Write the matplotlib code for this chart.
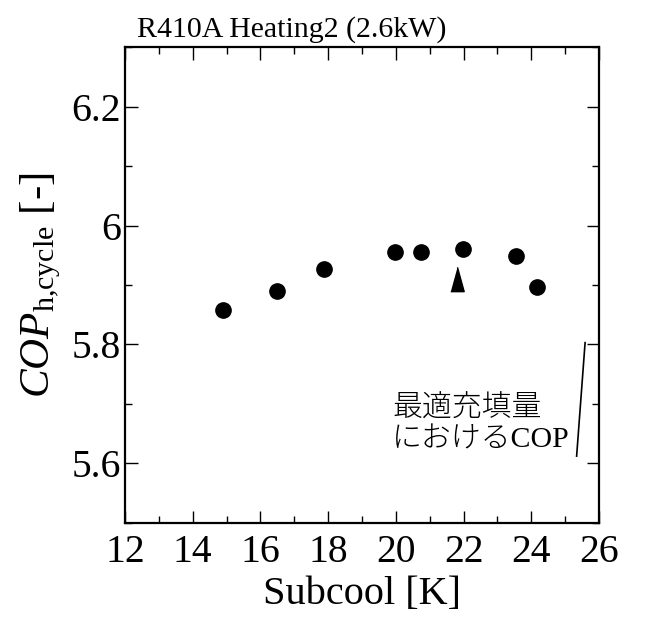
import matplotlib
matplotlib.use("Agg")
import matplotlib.pyplot as plt
from matplotlib.ticker import MultipleLocator

# Data
subcool = [14.90, 16.50, 17.89, 19.97, 20.73, 21.97, 23.54, 24.16]
cop = [5.858, 5.890, 5.927, 5.956, 5.955, 5.960, 5.949, 5.897]
opt_x = [21.80]
opt_y = [5.910]
title = "R410A Heating2 (2.6kW)"
xticks = [12, 14, 16, 18, 20, 22, 24, 26]
yticks = [5.6, 5.8, 6.0, 6.2]
yticklabels = ["5.6", "5.8", "6", "6.2"]

plt.rcParams['font.family'] = ['Liberation Serif', 'Noto Sans CJK JP']
plt.rcParams['mathtext.fontset'] = 'custom'
plt.rcParams['mathtext.rm'] = 'Liberation Serif'
plt.rcParams['mathtext.it'] = 'Liberation Serif:italic'

fig = plt.figure(figsize=(6.46, 6.21), dpi=100)
ax = fig.add_axes([0.1935, 0.1583, 0.7337, 0.7655])

ax.plot(subcool, cop, 'o', color='black', markersize=11, linestyle='none')
tri = [(-0.275, -0.5), (0.275, -0.5), (0.0, 0.5)]
ax.plot(opt_x, opt_y, marker=tri, color='black', markersize=17.5, linestyle='none')

ax.set_xlim(12, 26)
ax.set_ylim(5.5, 6.3)
ax.set_xticks(xticks)
ax.set_yticks(yticks)
ax.set_yticklabels(yticklabels)
ax.xaxis.set_minor_locator(MultipleLocator(1))
ax.yaxis.set_minor_locator(MultipleLocator(0.1))
ax.tick_params(which='both', direction='in', top=True, right=True, width=1.0)
ax.tick_params(which='major', length=9, labelsize=28.5)
ax.tick_params(axis='x', which='major', pad=8)
ax.tick_params(axis='y', which='major', pad=3)
ax.tick_params(which='minor', length=5)
for s in ax.spines.values():
    s.set_linewidth(1.6)

ax.set_xlabel("Subcool [K]", fontsize=29, labelpad=4)
ax.set_ylabel(r"$\mathit{COP}_{\mathrm{h{,}cycle}}$ [-]", fontsize=31, labelpad=6)

fig.text(137/646, 1 - 37/621, title, fontsize=21.5, ha='left', va='baseline')

ax.text(19.89, 5.714, "最適充填量\nにおけるCOP", fontsize=21.5, ha='left', va='top',
        linespacing=1.22, fontweight='light',
        family=['Liberation Serif', 'Noto Sans CJK JP'])
ax.plot([25.34, 25.59], [5.612, 5.803], color='black', linewidth=1.2)

fig.savefig("out.png", dpi=100)
